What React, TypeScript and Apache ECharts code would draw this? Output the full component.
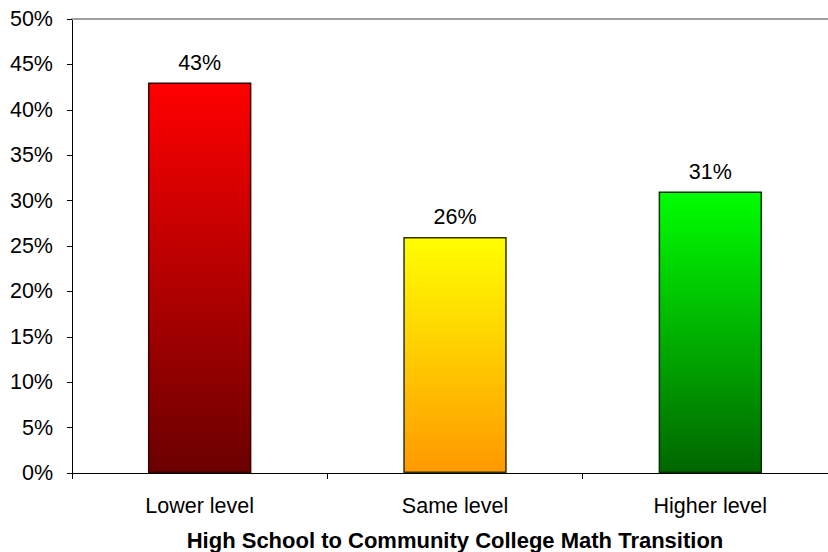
import React, { useEffect, useRef } from "react";
import * as echarts from "echarts";

const categories = ["Lower level", "Same level", "Higher level"];
const values = [43, 26, 31];
const topColors = ["#ff0000", "#ffff00", "#00ff00"];
const bottomColors = ["#6a0000", "#ff9900", "#006600"];
const borderColors = ["#3a0000", "#333300", "#003300"];
const axisTitle = "High School to Community College Math Transition";

export default function App() {
  const ref = useRef<HTMLDivElement>(null);
  useEffect(() => {
    if (!ref.current) return;
    const chart = echarts.init(ref.current, null, { renderer: "svg" });
    const font = "Liberation Sans, Arial, sans-serif";
    const fs = 21.5;
    chart.setOption({
      animation: false,
      backgroundColor: "#ffffff",
      grid: { left: 72, top: 19, width: 766, height: 454, outerBoundsMode: "none", containLabel: false },
      xAxis: [
        {
          type: "category",
          data: categories,
          axisLine: { lineStyle: { color: "#000", width: 1 } },
          axisTick: { show: true, alignWithLabel: false, length: 6, lineStyle: { color: "#000" } },
          axisLabel: { color: "#000", fontSize: fs, fontFamily: font, margin: 22 },
          name: axisTitle,
          nameLocation: "middle",
          nameGap: 56,
          nameTextStyle: { color: "#000", fontSize: 22, lineHeight: 22, fontWeight: "bold", fontFamily: font },
        },
        {
          type: "category",
          position: "top",
          data: categories,
          axisLine: { lineStyle: { color: "#a0a0a0", width: 2 } },
          axisTick: { show: false },
          axisLabel: { show: false },
        },
      ],
      yAxis: {
        type: "value",
        min: 0,
        max: 50,
        interval: 5,
        axisLine: { show: true, lineStyle: { color: "#000" } },
        axisTick: { show: true, length: 5, inside: false, lineStyle: { color: "#000" } },
        splitLine: { show: false },
        axisLabel: {
          color: "#000",
          fontSize: fs,
          fontFamily: font,
          margin: 19,
          formatter: "{value}%",
        },
      },
      series: [
        {
          type: "bar",
          barWidth: "40.5%",
          data: values.map((v, i) => ({
            value: v,
            itemStyle: {
              color: new echarts.graphic.LinearGradient(0, 0, 0, 1, [
                { offset: 0, color: topColors[i] },
                { offset: 1, color: bottomColors[i] },
              ]),
              borderColor: borderColors[i],
              borderWidth: 1.5,
            },
          })),
          label: {
            show: true,
            position: "top",
            distance: 9,
            color: "#000",
            fontSize: fs,
            fontFamily: font,
            formatter: "{c}%",
          },
        },
      ],
    });
    return () => chart.dispose();
  }, []);
  return <div ref={ref} style={{ width: 828, height: 552, position: "absolute", left: 0, top: 0 }} />;
}
